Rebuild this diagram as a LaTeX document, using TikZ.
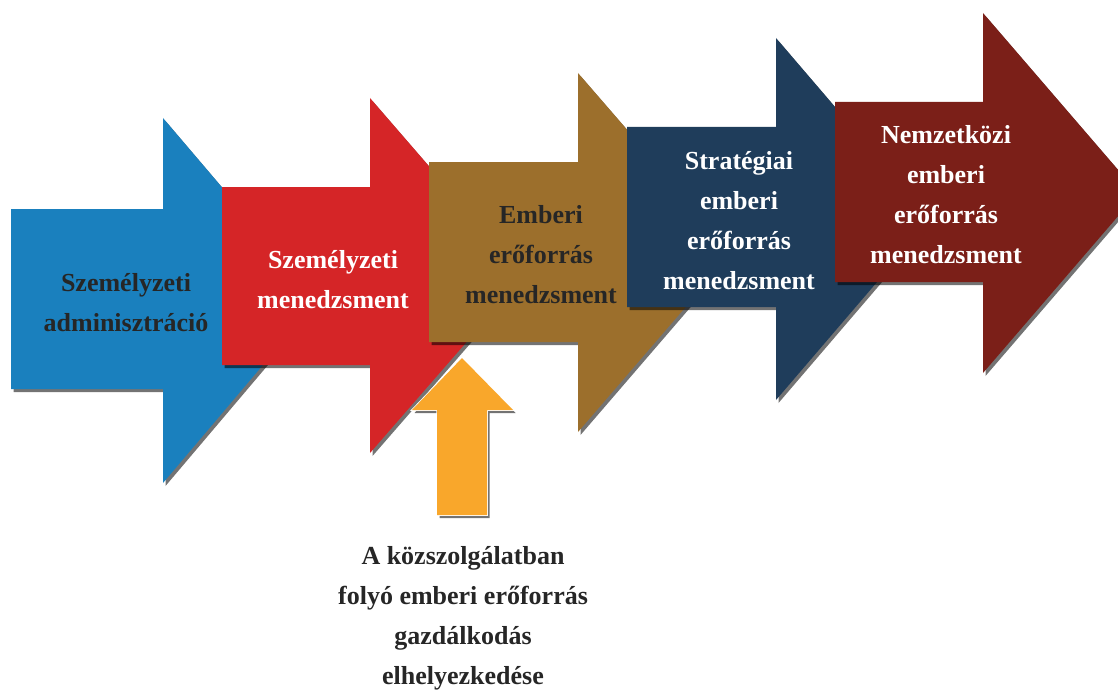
\documentclass[tikz,border=0pt]{standalone}
\usepackage{fontspec}
\setmainfont{Liberation Serif}
\definecolor{cBlue}{HTML}{1A80BE}
\definecolor{cRed}{HTML}{D52527}
\definecolor{cBrown}{HTML}{9C6F2C}
\definecolor{cNavy}{HTML}{1F3D5B}
\definecolor{cMaroon}{HTML}{7B1F18}
\definecolor{cOrange}{HTML}{F9A72B}
\definecolor{cText}{HTML}{262626}
\tikzset{
  dropshadow/.style={fill=black,fill opacity=0.55,draw=none},
  lbl/.style={align=center,inner sep=0pt,font=\fontsize{26}{40}\selectfont\bfseries},
}
% right arrow: xl, shaft top, shaft bottom, head base x, head top, head bottom, tip x, tip y
\newcommand{\rarrowpath}[8]{(#1,#2) -- (#4,#2) -- (#4,#5) -- (#7,#8) -- (#4,#6) -- (#4,#3) -- (#1,#3) -- cycle}
\newcommand{\rarrow}[9]{%
  \fill[dropshadow,shift={(2.5,3)}] \rarrowpath{#1}{#2}{#3}{#4}{#5}{#6}{#7}{#8};
  \fill[#9] \rarrowpath{#1}{#2}{#3}{#4}{#5}{#6}{#7}{#8};
}
\begin{document}
\begin{tikzpicture}[x=1pt,y=-1pt]
\useasboundingbox (0,0) rectangle (1118,690);
\begin{scope}
\clip (0,0) rectangle (1118,690);
\rarrow{11}{209}{389}{163}{118}{483}{318}{300}{cBlue}
\rarrow{222}{187}{365}{370}{98}{453}{524}{276}{cRed}
\rarrow{429}{162}{342}{578}{73}{432}{733}{252}{cBrown}
\rarrow{627}{127}{307}{776}{38}{400}{931}{219}{cNavy}
\rarrow{835}{102}{282}{983}{13}{373}{1138}{193}{cMaroon}
% orange up arrow
\fill[dropshadow,shift={(2.5,3)}] (437,515) -- (437,410) -- (412,410) -- (462,358) -- (513,410) -- (487,410) -- (487,515) -- cycle;
\filldraw[fill=cOrange,draw=white,line width=1.5pt] (437,515) -- (437,410) -- (412,410) -- (462,358) -- (513,410) -- (487,410) -- (487,515) -- cycle;
\fill[cOrange] (437,515) -- (437,410) -- (412,410) -- (462,358) -- (513,410) -- (487,410) -- (487,515) -- cycle;
\end{scope}
\node[lbl,text=cText] (t1) at (126,303) {Személyzeti\\adminisztráció};
\node[lbl,text=white] (t2) at (333,280) {Személyzeti\\menedzsment};
\node[lbl,text=cText] (t3) at (541,255) {Emberi\\erőforrás\\menedzsment};
\node[lbl,text=white] (t4) at (739,221) {Stratégiai\\emberi\\erőforrás\\menedzsment};
\node[lbl,text=white] (t5) at (946,195) {Nemzetközi\\emberi\\erőforrás\\menedzsment};
\node[lbl,text=cText] (t6) at (463,618) {A közszolgálatban\\folyó emberi erőforrás\\gazdálkodás\\elhelyezkedése};
\end{tikzpicture}
\end{document}
